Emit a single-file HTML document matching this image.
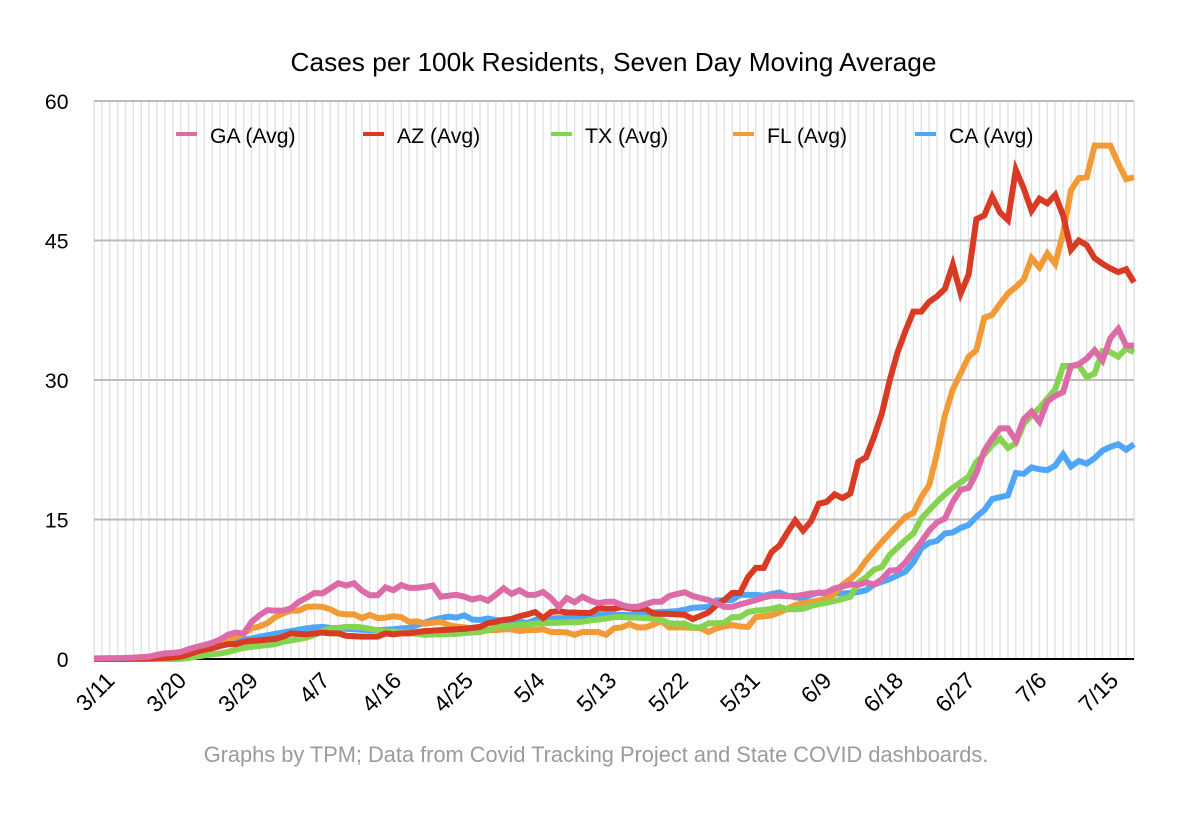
<!DOCTYPE html>
<html><head><meta charset="utf-8"><title>Cases per 100k Residents</title>
<style>
html,body{margin:0;padding:0;background:#fff}
svg{display:block;font-family:"Liberation Sans",Arial,sans-serif}
</style></head>
<body>
<svg id="chart" xmlns="http://www.w3.org/2000/svg" width="1200" height="819" viewBox="0 0 1200 819">
<rect width="1200" height="819" fill="#fff"/>
<text x="613.5" y="71" text-anchor="middle" font-size="26.25" fill="#000">Cases per 100k Residents, Seven Day Moving Average</text>
<g id="vgrid"></g>
<g id="hgrid"></g>
<g id="xlabels"></g>
<g id="series"></g>
<g id="legend"></g>
<text x="596" y="762" text-anchor="middle" font-size="21.8" fill="#9b9b9b">Graphs by TPM; Data from Covid Tracking Project and State COVID dashboards.</text>
</svg>
<script>
const tickLabels = ["3/11","3/20","3/29","4/7","4/16","4/25","5/4","5/13","5/22","5/31","6/9","6/18","6/27","7/6","7/15"];
const yTicks = [0,15,30,45,60];
const seriesNames = ["CA (Avg)","FL (Avg)","TX (Avg)","AZ (Avg)","GA (Avg)"];
const ga = [.07,.08,.09,.1,.12,.15,.2,.25,.45,.6,
.65,.75,1.05,1.3,1.5,1.75,2.1,2.6,2.85,2.75,
4.0,4.7,5.25,5.2,5.2,5.45,6.15,6.6,7.1,7.05,
7.6,8.15,7.9,8.15,7.35,6.85,6.85,7.7,7.4,7.95,
7.65,7.65,7.75,7.9,6.7,6.8,6.9,6.7,6.4,6.6,
6.27,6.9,7.6,7.0,7.4,6.9,6.9,7.2,6.55,5.6,
6.55,6.1,6.7,6.27,6.0,6.16,6.16,5.8,5.6,5.6,
5.9,6.16,6.16,6.77,7.0,7.17,6.77,6.55,6.35,6.0,
5.6,5.6,5.87,6.1,6.35,6.6,6.8,6.8,6.75,6.77,
6.9,7.06,7.1,7.17,7.6,7.8,8.03,7.96,8.25,8.0,
8.6,9.5,9.57,10.4,11.5,12.6,13.8,14.7,15.1,16.9,
18.2,18.4,20,22.4,23.7,24.8,24.8,23.5,25.8,26.6,
25.5,27.7,28.3,28.7,31.5,31.7,32.3,33.2,32.1,34.5,
35.5,33.7,33.7];
const az = [0,0,0,0,0,.02,.03,.05,.08,.12,
.18,.25,.5,.8,1.0,1.15,1.4,1.6,1.6,1.85,
1.95,2.0,2.1,2.15,2.4,2.75,2.7,2.65,2.75,2.85,
2.75,2.75,2.5,2.45,2.4,2.4,2.4,2.75,2.65,2.75,
2.75,2.9,3.0,3.05,3.1,3.15,3.2,3.25,3.35,3.45,
3.85,4.0,4.2,4.3,4.6,4.8,5.05,4.4,5.05,5.15,
5.0,5.0,4.95,4.95,5.45,5.4,5.4,5.6,5.45,5.4,
5.4,4.9,4.85,4.85,4.8,4.75,4.3,4.65,5.0,5.8,
6.35,7.1,7.1,8.8,9.8,9.8,11.5,12.2,13.6,14.9,
13.8,14.8,16.7,16.9,17.7,17.3,17.8,21.2,21.7,23.9,
26.4,30,33.0,35.3,37.35,37.35,38.4,39,39.8,42.4,
39.3,41.3,47.3,47.7,49.7,48,47.2,52.6,50.6,48.2,
49.5,49,49.9,47.7,44,45,44.5,43.1,42.5,42,
41.6,41.9,40.5];
const tx = [0,0,0,0,0,0,0,0,0,0,
0,.02,.1,.25,.4,.5,.6,.75,1.0,1.2,
1.3,1.4,1.5,1.6,1.85,2.0,2.15,2.3,2.6,3.0,
3.3,3.35,3.45,3.45,3.4,3.25,3.1,3.0,2.95,2.9,
2.8,2.7,2.6,2.65,2.65,2.7,2.7,2.8,2.85,2.9,
3.1,3.4,3.5,3.6,3.65,3.7,3.8,3.85,3.9,3.9,
3.95,3.95,4.0,4.15,4.25,4.35,4.5,4.5,4.45,4.45,
4.4,4.3,4.2,3.85,3.8,3.8,3.4,3.4,3.85,3.85,
3.9,4.5,4.5,5.05,5.2,5.27,5.4,5.6,5.35,5.35,
5.4,5.7,5.9,6.05,6.25,6.45,6.7,8.2,8.8,9.6,
9.9,11.2,12.0,12.8,13.5,15.1,16,16.9,17.7,18.4,
19.0,19.6,21.2,22,23,23.7,22.7,23.2,25.3,26.2,
27,28,29,31.5,31.5,31.6,30.3,30.7,33.1,33,
32.5,33.4,33];
const fl = [0,0,0,0,0,0,0,0,0,0,
0,.05,.2,.5,.9,1.4,1.8,2.1,2.4,2.75,
3.3,3.5,3.85,4.5,4.9,5.2,5.2,5.6,5.65,5.6,
5.35,4.9,4.8,4.8,4.4,4.75,4.4,4.45,4.6,4.5,
4.0,4.05,3.8,3.9,4.0,3.65,3.5,3.4,3.3,3.1,
3.1,3.1,3.2,3.2,3.0,3.1,3.1,3.2,2.9,2.9,
2.85,2.6,2.9,2.9,2.9,2.6,3.3,3.4,3.75,3.4,
3.4,3.7,4.1,3.4,3.4,3.4,3.35,3.3,2.9,3.3,
3.5,3.65,3.5,3.45,4.5,4.6,4.7,5.0,5.4,5.8,
6.0,6.15,6.3,6.5,7.0,8.0,8.6,9.4,10.6,11.6,
12.6,13.5,14.4,15.3,15.7,17.4,18.7,22.1,26.2,29,
30.7,32.5,33.2,36.7,37,38.2,39.3,40,40.8,43.1,
42.1,43.6,42.5,45.8,50.4,51.7,51.8,55.2,55.2,55.2,
53.3,51.6,51.8];
const ca = [0,0,0,0,0,0,.02,.05,.1,.2,
.3,.4,.6,.8,1.0,1.2,1.4,1.6,1.9,2.1,
2.2,2.4,2.55,2.7,2.85,3.0,3.15,3.3,3.4,3.45,
3.35,3.3,3.25,3.2,3.15,3.1,3.1,3.15,3.2,3.3,
3.35,3.65,3.9,4.2,4.4,4.55,4.45,4.7,4.25,4.2,
4.35,4.2,4.15,4.1,4.05,3.85,4.2,4.3,4.35,4.4,
4.4,4.4,4.4,4.4,4.75,4.75,4.75,4.75,4.75,4.85,
4.9,5,5.05,5.1,5.15,5.3,5.5,5.55,5.6,6.3,
6.3,6.35,6.9,6.9,6.9,6.8,7,7.15,6.8,6.65,
6.5,6.9,7.15,7,7.05,7.05,7.1,7.2,7.4,8,
8.3,8.6,9,9.4,10.4,11.9,12.5,12.7,13.5,13.6,
14.1,14.4,15.3,16,17.2,17.4,17.6,20,19.9,20.6,
20.4,20.3,20.8,22,20.7,21.3,21,21.6,22.4,22.8,
23.1,22.5,23.1];

const NS = 'http://www.w3.org/2000/svg';
const plot = {left:94, right:1134, top:101, bottom:659, yMax:60};
const seriesValues = [ca, fl, tx, az, ga];
const seriesColors = ['#4ea6f8','#f29a35','#84d351','#d93a23','#dd6ba8'];
const pointCount = ga.length;
function xScale(i){ return plot.left + i*(plot.right-plot.left)/(pointCount-1); }
function yScale(v){ return plot.bottom - v*(plot.bottom-plot.top)/plot.yMax; }
function labelX(k){ return plot.left + 22 + k*71.7; }
function make(tag, attrs, parent){
  const el = document.createElementNS(NS, tag);
  for (const k in attrs) el.setAttribute(k, attrs[k]);
  parent.appendChild(el);
  return el;
}
const vgrid = document.getElementById('vgrid');
for (let i=0;i<pointCount;i++){
  const l = make('line',{x1:xScale(i),x2:xScale(i),y1:plot.top,y2:plot.bottom,stroke:'#e2e2e2','stroke-width':1.4},vgrid);
  
  
}
const hgrid = document.getElementById('hgrid');
yTicks.forEach(function(t){
  const l = make('line',{x1:plot.left,x2:plot.right,y1:yScale(t),y2:yScale(t),stroke:t===0?'#000':'#bcbcbc','stroke-width':2},hgrid);
  
  
  const txt = make('text',{x:68.5,y:yScale(t)+8,'text-anchor':'end','font-size':21.2,fill:'#000'},hgrid);
  txt.textContent = t;
  
  
});
const xlabels = document.getElementById('xlabels');
tickLabels.forEach(function(lbl,k){
  const x = labelX(k), y = 682;
  const txt = make('text',{x:x,y:y,'text-anchor':'end','font-size':23,fill:'#000',transform:'rotate(-45 '+x+' '+y+')'},xlabels);
  txt.textContent = lbl;
  
  
});
const seriesG = document.getElementById('series');
seriesValues.forEach(function(vals,s){
  const pts = vals.map(function(v,i){ return xScale(i).toFixed(2)+','+yScale(v).toFixed(2); }).join(' ');
  const p = make('polyline',{points:pts,fill:'none',stroke:seriesColors[s],'stroke-width':6,'stroke-linejoin':'miter','stroke-miterlimit':4},seriesG);
  
  
});
const legendG = document.getElementById('legend');
const legendOrder = [4,3,2,1,0];
const legendSwatchX = [176,363,551,733,915];
legendOrder.forEach(function(s,k){
  const sx = legendSwatchX[k];
  const sw = make('rect',{x:sx,y:132,width:21,height:4,fill:seriesColors[s]},legendG);
  
  
  const txt = make('text',{x:sx+34,y:143,'font-size':21.2,fill:'#000'},legendG);
  txt.textContent = seriesNames[s];
  
  
});
</script>
</body></html>
